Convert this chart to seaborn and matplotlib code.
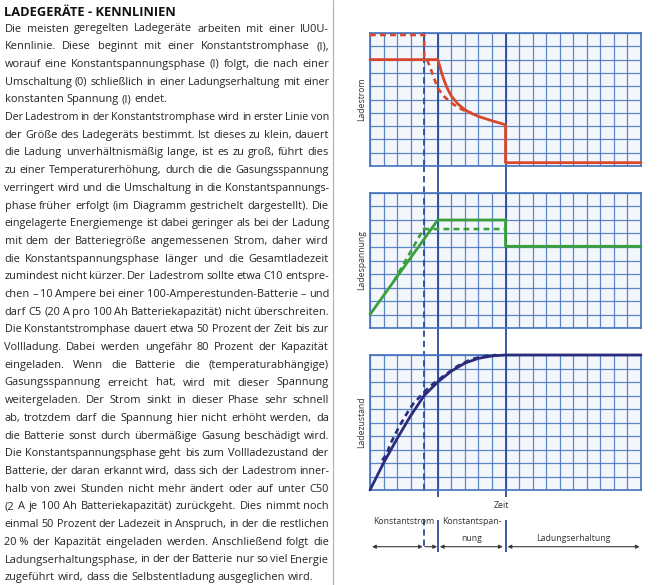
import matplotlib
matplotlib.use("Agg")
import matplotlib.pyplot as plt
import seaborn as sns
from matplotlib.font_manager import FontProperties
from matplotlib.lines import Line2D

# ---------------- data ----------------
title = "LADEGERÄTE - KENNLINIEN"
body_lines = [
    "Die meisten geregelten Ladegeräte arbeiten mit einer IU0U-",
    "Kennlinie. Diese beginnt mit einer Konstantstromphase (I),",
    "worauf eine Konstantspannungsphase (I) folgt, die nach einer",
    "Umschaltung (0) schließlich in einer Ladungserhaltung mit einer",
    "konstanten Spannung (I) endet.",
    "Der Ladestrom in der Konstantstromphase wird in erster Linie von",
    "der Größe des Ladegeräts bestimmt. Ist dieses zu klein, dauert",
    "die Ladung unverhältnismäßig lange, ist es zu groß, führt dies",
    "zu einer Temperaturerhöhung, durch die die Gasungsspannung",
    "verringert wird und die Umschaltung in die Konstantspannungs-",
    "phase früher erfolgt (im Diagramm gestrichelt dargestellt). Die",
    "eingelagerte Energiemenge ist dabei geringer als bei der Ladung",
    "mit dem der Batteriegröße angemessenen Strom, daher wird",
    "die Konstantspannungsphase länger und die Gesamtladezeit",
    "zumindest nicht kürzer. Der Ladestrom sollte etwa C10 entspre-",
    "chen – 10 Ampere bei einer 100-Amperestunden-Batterie – und",
    "darf C5 (20 A pro 100 Ah Batteriekapazität) nicht überschreiten.",
    "Die Konstantstromphase dauert etwa 50 Prozent der Zeit bis zur",
    "Vollladung. Dabei werden ungefähr 80 Prozent der Kapazität",
    "eingeladen. Wenn die Batterie die (temperaturabhängige)",
    "Gasungsspannung erreicht hat, wird mit dieser Spannung",
    "weitergeladen. Der Strom sinkt in dieser Phase sehr schnell",
    "ab, trotzdem darf die Spannung hier nicht erhöht werden, da",
    "die Batterie sonst durch übermäßige Gasung beschädigt wird.",
    "Die Konstantspannungsphase geht bis zum Vollladezustand der",
    "Batterie, der daran erkannt wird, dass sich der Ladestrom inner-",
    "halb von zwei Stunden nicht mehr ändert oder auf unter C50",
    "(2 A je 100 Ah Batteriekapazität) zurückgeht. Dies nimmt noch",
    "einmal 50 Prozent der Ladezeit in Anspruch, in der die restlichen",
    "20\u00a0% der Kapazität eingeladen werden. Anschließend folgt die",
    "Ladungserhaltungsphase, in der der Batterie nur so viel Energie",
    "zugeführt wird, dass die Selbstentladung ausgeglichen wird.",
]
paragraph_ends = [4, 31]

axis_names = ["Ladestrom", "Ladespannung", "Ladezustand"]
x_name = "Zeit"
phase_names = ["Konstantstrom", "Konstantspan-", "nung", "Ladungserhaltung"]

t_start = 0.0
t_hot_switch = 4.0   # Umschaltung bei zu großem Strom (gestrichelt)
t_switch = 5.0
t_float = 10.0
t_end = 20.0

# Ladestrom (solid / dashed)
strom_t = [0, 5, 5.15, 5.3, 5.5, 5.75, 6.0, 6.5, 7.0, 7.5, 8.0, 9.0, 10, 10, 20]
strom_v = [8, 8, 7.5, 6.95, 6.35, 5.75, 5.27, 4.65, 4.23, 3.95, 3.73, 3.4, 3.1, 0.25, 0.25]
strom_hot_t = [0, 4, 4.0, 4.25, 4.5, 4.75, 5.0, 5.5, 6.0, 6.5, 7.0, 7.5]
strom_hot_v = [9.85, 9.85, 8.2, 7.9, 7.25, 6.55, 5.85, 5.2, 4.75, 4.4, 4.15, 3.98]

# Ladespannung
spann_t = [0, 5, 10, 10, 20]
spann_v = [1, 8, 8, 6.05, 6.05]
spann_hot_t = [1.75, 3.95, 10]
spann_hot_v = [3.45, 7.33, 7.33]

# Ladezustand
soc_t = [0, 1, 2, 3, 4, 5, 6, 7, 8, 9, 10, 20]
soc_v = [0, 2.0, 3.8, 5.5, 7.0, 8.0, 8.8, 9.4, 9.75, 9.93, 10, 10]
soc_hot_t = [0.9, 1.25, 1.45, 2.15, 2.8, 3.2, 4.2, 4.7, 5.5, 6.5, 7.5, 8.5, 9.3]
soc_hot_v = [2.2, 2.7, 3.3, 4.7, 5.8, 6.4, 7.45, 7.9, 8.5, 9.2, 9.7, 9.92, 10]

# ---------------- style ----------------
W, H = 665, 585
sns.set_theme(style="white")
FAM = ["Open Sans", "DejaVu Sans"]
plt.rcParams["font.family"] = FAM

GRID = "#4372bd"
PHASE = "#2b4c95"
RED = "#d9472c"
GREEN = "#3aa03b"
NAVY = "#2b2b7c"
TXT = "#242424"
LBL = "#333333"

fig = plt.figure(figsize=(W / 100, H / 100), dpi=100)
fig.patch.set_facecolor("white")


def px_axes(x0, y0, x1, y1):
    return fig.add_axes([x0 / W, 1 - y1 / H, (x1 - x0) / W, (y1 - y0) / H])


# overlay for phase lines and labels (pixel y coordinates)
ov = fig.add_axes([370 / W, 0, 271 / W, 1])
ov.set_xlim(t_start, t_end)
ov.set_ylim(H, 0)
ov.axis("off")
ov.set_zorder(0)

dash_phase = (0, (3.5, 2.2))
for y0, y1 in [(33, 497), (520, 552)]:
    ov.vlines([t_switch, t_float], y0, y1, color=PHASE, lw=1.3)
    ov.vlines([t_hot_switch], y0 - 1, y1 - 2, color=PHASE, lw=1.3, linestyles=dash_phase)

boxes = [(370, 33, 641, 166), (370, 193, 641, 328), (370, 355, 641, 490)]
series = [
    (strom_t, strom_v, strom_hot_t, strom_hot_v, RED),
    (spann_t, spann_v, spann_hot_t, spann_hot_v, GREEN),
    (soc_t, soc_v, soc_hot_t, soc_hot_v, NAVY),
]
for box, name, (tx, vy, htx, hvy, col) in zip(boxes, axis_names, series):
    ax = px_axes(*box)
    ax.set_zorder(1)
    ax.set_facecolor("#f3f7fc")
    ax.set_xlim(t_start, t_end)
    ax.set_ylim(0, 10)
    ax.set_xticks(range(0, 21))
    ax.set_yticks(range(0, 11))
    ax.grid(True, color=GRID, lw=0.9, alpha=0.85)
    ax.tick_params(length=0, labelbottom=False, labelleft=False)
    for s in ax.spines.values():
        s.set_color(GRID)
        s.set_linewidth(1.2)
        s.set_visible(True)
    ax.axvline(t_switch, color=PHASE, lw=1.3, zorder=2)
    ax.axvline(t_float, color=PHASE, lw=1.3, zorder=2)
    ax.axvline(t_hot_switch, color=PHASE, lw=1.3, ls=dash_phase, zorder=2)
    sns.lineplot(x=tx, y=vy, ax=ax, color=col, lw=2.0, sort=False,
                 estimator=None, zorder=4, clip_on=False)
    sns.lineplot(x=htx, y=hvy, ax=ax, color=col, lw=1.9, sort=False,
                 estimator=None, zorder=3, clip_on=False,
                 linestyle=(0, (2.2, 1.6)))
    ax.set_xlabel("")
    ax.set_ylabel("")
    ov.text(-0.62, (box[1] + box[3]) / 2, name, rotation=90, ha="center",
            va="center", fontsize=6.2, color=LBL)

# annotations under the charts
ov.text(t_float - 0.3, 505, x_name, ha="center", va="center", fontsize=6.3, color=LBL)
ov.text((t_start + t_switch) / 2, 522, phase_names[0], ha="center", va="center", fontsize=6.3, color=LBL)
ov.text((t_switch + t_float) / 2, 522, phase_names[1], ha="center", va="center", fontsize=6.3, color=LBL)
ov.text((t_switch + t_float) / 2, 538.5, phase_names[2], ha="center", va="center", fontsize=6.3, color=LBL)
ov.text((t_float + t_end) / 2, 538.5, phase_names[3], ha="center", va="center", fontsize=6.3, color=LBL)

ya = 546.7
ap = dict(color="#3a3a3a", lw=0.8, mutation_scale=5.5, shrinkA=0, shrinkB=0)
ov.annotate("", xy=(t_hot_switch - 0.1, ya), xytext=(t_start + 0.15, ya),
            arrowprops=dict(arrowstyle="<|-|>", **ap))
ov.annotate("", xy=(t_switch - 0.05, ya), xytext=(t_hot_switch + 0.05, ya),
            arrowprops=dict(arrowstyle="-|>", **ap))
ov.annotate("", xy=(t_float - 0.2, ya), xytext=(t_switch + 0.15, ya),
            arrowprops=dict(arrowstyle="<|-|>", **ap))
ov.annotate("", xy=(t_end - 0.1, ya), xytext=(t_float + 0.15, ya),
            arrowprops=dict(arrowstyle="<|-|>", **ap))

# separator line
fig.add_artist(Line2D([333 / W, 333 / W], [0, 1], transform=fig.transFigure,
                      color="#b5b5b5", lw=0.9))

# ---------------- justified text column ----------------
renderer = fig.canvas.get_renderer()


def wpx(s, fp):
    w, h, d = renderer.get_text_width_height_descent(s, fp, ismath=False)
    return w


x_left, x_right = 4.5, 329.0

# title
tfp = FontProperties(family=FAM, size=8.3, weight="bold")
tw = wpx(title, tfp)
tfp = FontProperties(family=FAM, size=8.3 * 171.0 / tw, weight="bold")
fig.text(x_left / W, 1 - 16.5 / H, title, fontproperties=tfp, color="#111111",
         ha="left", va="baseline")

base_size = 7.9
for i, line in enumerate(body_lines):
    base = 31.5 + i * 17.7
    words = line.split(" ")
    size = base_size
    while True:
        fp = FontProperties(family=FAM, size=size)
        ws = [wpx(w, fp) for w in words]
        nat_gap = wpx("a a", fp) - wpx("aa", fp)
        total = sum(ws)
        if i in paragraph_ends:
            gap = nat_gap
            if total + gap * (len(words) - 1) <= x_right - x_left or size < 5:
                break
        else:
            gap = (x_right - x_left - total) / max(len(words) - 1, 1)
            if gap >= 0.75 * nat_gap or size < 5:
                break
        size -= 0.1
    x = x_left
    for w, ww in zip(words, ws):
        fig.text(x / W, 1 - base / H, w, fontproperties=fp, color=TXT,
                 ha="left", va="baseline")
        x += ww + gap

fig.savefig("out.png", dpi=100, facecolor="white")
